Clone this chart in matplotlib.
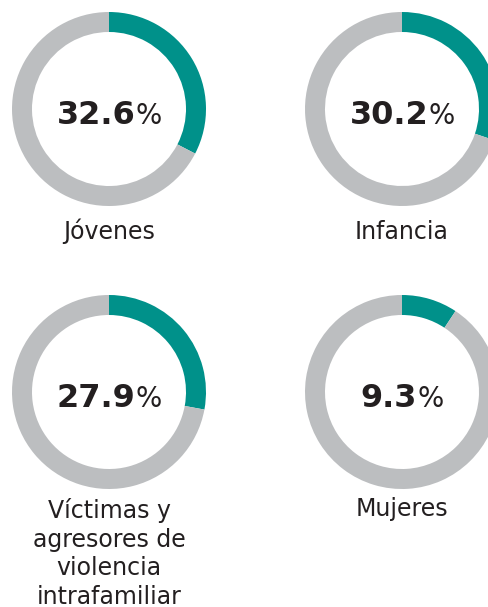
import matplotlib
matplotlib.use("Agg")
import matplotlib.pyplot as plt

# Data
categories = ["Jóvenes", "Infancia", "Víctimas y\nagresores de\nviolencia\nintrafamiliar", "Mujeres"]
values = [32.6, 30.2, 27.9, 9.3]
value_labels = ["32.6", "30.2", "27.9", "9.3"]

# Layout (pixel coordinates, y from top)
W, H = 488, 607
centers = [(109, 109), (402, 109), (109, 392), (402, 392)]
label_baselines = [239, 239, 518, 516]
R_OUT = 97
RING = 20
LINE_STEP = 28.5

TEAL = "#00918A"
GRAY = "#BCBEC0"
TEXT = "#231F20"

fig = plt.figure(figsize=(W / 100, H / 100), dpi=100)
ax = fig.add_axes([0, 0, 1, 1])

for (cx, cy), v in zip(centers, values):
    ax.pie([v, 100 - v], colors=[TEAL, GRAY], startangle=90, counterclock=False,
           radius=R_OUT, center=(cx, H - cy),
           wedgeprops=dict(width=RING, linewidth=0))

ax.set_xlim(0, W)
ax.set_ylim(0, H)
ax.set_aspect("auto")
ax.set_axis_off()

fig.canvas.draw()
renderer = fig.canvas.get_renderer()

for (cx, cy), vl in zip(centers, value_labels):
    base = H - (cy + 15)
    t1 = ax.text(0, base, vl, fontsize=23, fontweight="bold", color=TEXT,
                 ha="left", va="baseline", family="DejaVu Sans")
    t2 = ax.text(0, base, "%", fontsize=20, fontweight="normal", color=TEXT,
                 ha="left", va="baseline", family="DejaVu Sans")
    w1 = t1.get_window_extent(renderer).width
    w2 = t2.get_window_extent(renderer).width
    gap = 0
    total = w1 + gap + w2
    x0 = cx - total / 2
    t1.set_x(x0)
    t2.set_x(x0 + w1 + gap)

for (cx, cy), lab, bl in zip(centers, categories, label_baselines):
    for i, line in enumerate(lab.split("\n")):
        ax.text(cx, H - (bl + i * LINE_STEP), line, fontsize=17, color=TEXT,
                ha="center", va="baseline", family="DejaVu Sans")

fig.savefig("out.png", dpi=100)
